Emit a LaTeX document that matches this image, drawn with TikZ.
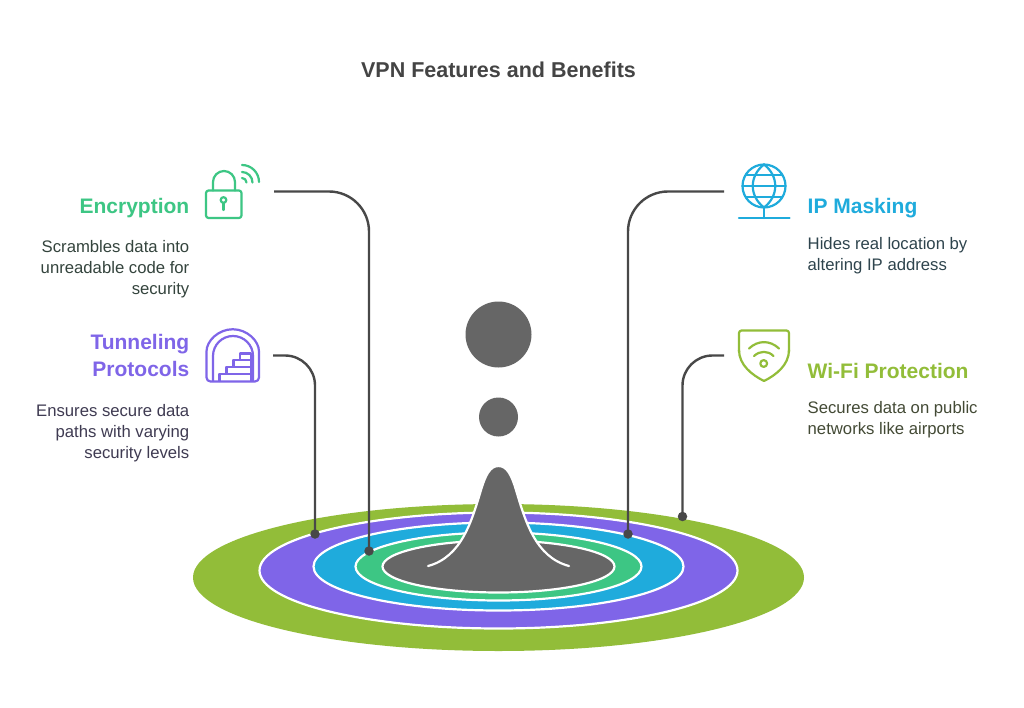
\documentclass[tikz,border=0pt]{standalone}
\usepackage{fontspec}
\setmainfont{Liberation Sans}
\definecolor{cgray}{HTML}{666666}
\definecolor{cdark}{HTML}{444444}
\definecolor{cline}{HTML}{484848}
\definecolor{colive}{HTML}{92BD39}
\definecolor{cpurple}{HTML}{7F65E8}
\definecolor{cblue}{HTML}{1FABDC}
\definecolor{cgreen}{HTML}{3DC684}
\definecolor{tgreen}{HTML}{34443D}
\definecolor{tpurple}{HTML}{3F3B52}
\definecolor{tblue}{HTML}{2E444D}
\definecolor{tolive}{HTML}{434A35}
\tikzset{
  ring/.style={draw=white,line width=2.2pt},
  leader/.style={draw=cline,line width=2.4pt,rounded corners=40pt},
  dotend/.style={circle,fill=cline,inner sep=0pt,minimum size=9.5pt},
  blob/.style={circle,fill=cgray,inner sep=0pt},
  head/.style={inner sep=0pt,font=\fontsize{21}{27}\selectfont\bfseries},
  body/.style={inner sep=0pt,font=\fontsize{16.7}{20.9}\selectfont},
  icon/.style={line width=2.2pt,line cap=round,line join=round}
}
\begin{document}
\begin{tikzpicture}[x=1pt,y=-1pt]
\useasboundingbox (0,0) rectangle (1024,708);
\fill[white] (0,0) rectangle (1024,708);
% rings
\fill[colive] (498.5,577.5) ellipse [x radius=305.5,y radius=73.5];
\draw[ring,fill=cpurple] (498.5,570.5) ellipse [x radius=239,y radius=58];
\draw[ring,fill=cblue] (498.5,566.5) ellipse [x radius=185,y radius=44];
\draw[ring,fill=cgreen] (498.5,566.5) ellipse [x radius=143,y radius=34];
\draw[ring,fill=cgray] (498.5,566.5) ellipse [x radius=116,y radius=26];
% bell
\draw[fill=cgray,draw=white,line width=2.2pt,line cap=round]
 (428,566) .. controls (462,557) and (472,520) .. (481,490)
 .. controls (485.5,475) and (490,466) .. (498.5,466)
 .. controls (507,466) and (511.5,475) .. (516,490)
 .. controls (525,520) and (535,557) .. (569,566);
% blobs
\node[blob,minimum size=66pt] (b1) at (498.5,334.5) {};
\node[blob,minimum size=39pt] (b2) at (498.5,417) {};
% title
\node[inner sep=0pt,text=cdark,font=\fontsize{21.5}{27}\selectfont\bfseries] (title) at (498.5,70) {VPN Features and Benefits};
% left texts
\node[head,anchor=east,text=cgreen] (h1) at (189.5,208) {Encryption};
\node[body,anchor=north east,align=right,text=tgreen] (t1) at (189.5,240) {Scrambles data into\\unreadable code for\\security};
\node[head,anchor=north east,align=right,text=cpurple] (h2) at (189.5,334) {Tunneling\\Protocols};
\node[body,anchor=north east,align=right,text=tpurple] (t2) at (189.5,404) {Ensures secure data\\paths with varying\\security levels};
% right texts
\node[head,anchor=west,text=cblue] (h3) at (807.5,208) {IP Masking};
\node[body,anchor=north west,align=left,text=tblue] (t3) at (807.5,237) {Hides real location by\\altering IP address};
\node[head,anchor=west,text=colive] (h4) at (807.5,371) {Wi-Fi Protection};
\node[body,anchor=north west,align=left,text=tolive] (t4) at (807.5,401) {Secures data on public\\networks like airports};
% connectors
\coordinate (c1) at (274,191.5);
\coordinate (c2) at (273,355.5);
\coordinate (c3) at (724,191.5);
\coordinate (c4) at (724,355.5);
\node[dotend] (d1) at (369,551) {};
\node[dotend] (d2) at (315,534) {};
\node[dotend] (d3) at (628,534) {};
\node[dotend] (d4) at (682.5,516.5) {};
\draw[leader] (c1) -| (d1.center);
\draw[leader,rounded corners=30pt] (c2) -| (d2.center);
\draw[leader] (c3) -| (d3.center);
\draw[leader,rounded corners=30pt] (c4) -| (d4.center);
% lock icon
\begin{scope}[icon,draw=cgreen]
\draw[rounded corners=2.5pt] (206,190.5) rectangle (241.5,218);
\draw (213,190.5) -- (213,182) arc[start angle=180,end angle=360,radius=11] -- (235,190.5);
\draw (223.5,200) circle[radius=2.8];
\draw (223.5,203) -- (223.5,210);
\draw (242,165) arc[start angle=-90,end angle=0,radius=17];
\draw (242,172) arc[start angle=-90,end angle=0,radius=10.5];
\draw (242,178) arc[start angle=-90,end angle=0,radius=4.5];
\end{scope}
% tunnel icon
\begin{scope}[icon,draw=cpurple]
\draw[rounded corners=4pt] (206.5,381.5) -- (206.5,355.5) arc[start angle=180,end angle=360,radius=26.25] -- (259,381.5) -- cycle;
\draw (213,381) -- (213,356) arc[start angle=180,end angle=360,radius=20] -- (253,381);
\draw (219.5,381) -- (219.5,374) -- (226.5,374) -- (226.5,367) -- (233.5,367) -- (233.5,360) -- (240,360) -- (240,353.5) -- (251,353.5) -- (251,381);
\draw (219.5,374) -- (251,374) (226.5,367) -- (251,367) (233.5,360) -- (251,360);
\end{scope}
% globe icon
\begin{scope}[icon,draw=cblue]
\draw (764,186) circle[radius=21.5];
\draw (764,164.5) .. controls (749,176) and (749,196) .. (764,207.5);
\draw (764,164.5) .. controls (779,176) and (779,196) .. (764,207.5);
\draw (746,175) -- (782,175);
\draw (746,197) -- (782,197);
\draw (742.5,186) -- (785.5,186);
\draw (764,207.5) -- (764,218);
\draw (739,218) -- (789.5,218);
\end{scope}
% shield icon
\begin{scope}[icon,draw=colive]
\draw[rounded corners=2.5pt] (739,352) -- (739,330.5) -- (789,330.5) -- (789,352);
\draw (789,350) .. controls (789,365) and (776,375) .. (764,381) .. controls (752,375) and (739,365) .. (739,350);
\draw (749,348.5) .. controls (758,340) and (770,340) .. (779,348.5);
\draw (754,356) .. controls (760,350.5) and (768,350.5) .. (773.5,356);
\draw (763.7,363.5) circle[radius=3.4];
\end{scope}
\end{tikzpicture}
\end{document}
